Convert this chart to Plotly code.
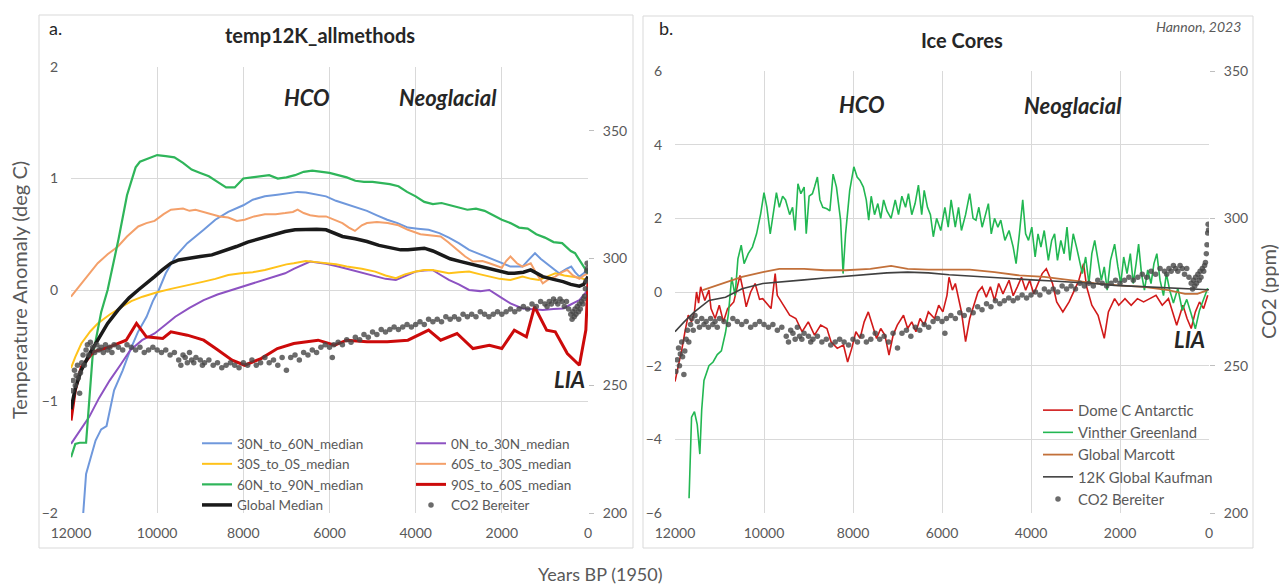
import plotly.graph_objects as go

# page has an 8px body margin: design in screen pixels, convert to figure paper coords
OFF = 8
W, H = 1287 - 2 * OFF, 587 - OFF
def px(x): return (x - OFF) / W
def py(y): return 1 - (y - OFF) / H

# ---------------- Panel a: temp12K_allmethods ----------------
nh30_60_years = [12000, 11716, 11650, 11430, 11300, 11175, 11000, 10800, 10626, 10450, 10246, 10100, 9962, 9800, 9580, 9300, 8920, 8650, 8350, 8000, 7780, 7500, 7210, 6950, 6740, 6550, 6360, 6080, 5850, 5600, 5350, 5130, 4900, 4660, 4420, 4180, 3950, 3700, 3450, 3230, 3000, 2760, 2500, 2290, 2050, 1800, 1520, 1380, 1230, 1100, 960, 800, 670, 500, 390, 300, 200, 100, 0]
nh30_60_vals = [-3.0, -2.0, -1.65, -1.35, -1.25, -1.22, -0.9, -0.72, -0.54, -0.38, -0.24, -0.1, 0.0, 0.15, 0.30, 0.42, 0.54, 0.63, 0.70, 0.76, 0.81, 0.84, 0.855, 0.87, 0.88, 0.875, 0.86, 0.84, 0.80, 0.77, 0.74, 0.71, 0.67, 0.63, 0.60, 0.56, 0.55, 0.54, 0.51, 0.47, 0.42, 0.36, 0.32, 0.29, 0.25, 0.21, 0.21, 0.27, 0.33, 0.28, 0.24, 0.19, 0.15, 0.19, 0.21, 0.16, 0.12, 0.15, 0.19]

eq0_30n_years = [12000, 11800, 11580, 11350, 11100, 10850, 10625, 10350, 10060, 9800, 9580, 9250, 8920, 8600, 8260, 8000, 7750, 7500, 7250, 7030, 6830, 6640, 6450, 6250, 6080, 5800, 5510, 5200, 4940, 4700, 4460, 4200, 4000, 3800, 3610, 3400, 3230, 3000, 2760, 2500, 2290, 2050, 1800, 1520, 1300, 1050, 800, 580, 400, 200, 0]
eq0_30n_vals = [-1.38, -1.27, -1.14, -0.97, -0.81, -0.67, -0.54, -0.45, -0.39, -0.31, -0.24, -0.16, -0.09, -0.04, 0.0, 0.03, 0.06, 0.09, 0.12, 0.15, 0.19, 0.225, 0.255, 0.245, 0.235, 0.21, 0.18, 0.15, 0.12, 0.10, 0.09, 0.13, 0.165, 0.175, 0.18, 0.13, 0.09, 0.05, 0.0, -0.01, 0.0, -0.06, -0.12, -0.165, -0.17, -0.18, -0.17, -0.165, -0.13, -0.09, 0.0]

sh30_0_years = [12000, 11900, 11760, 11550, 11380, 11100, 10815, 10600, 10340, 10000, 9680, 9300, 8920, 8650, 8350, 8050, 7780, 7500, 7210, 7000, 6830, 6550, 6300, 6080, 5850, 5600, 5250, 4940, 4700, 4460, 4250, 4000, 3800, 3610, 3400, 3230, 3000, 2760, 2500, 2290, 2050, 1800, 1520, 1320, 1140, 950, 760, 550, 380, 200, 0]
sh30_0_vals = [-0.70, -0.60, -0.48, -0.37, -0.30, -0.22, -0.15, -0.10, -0.06, -0.02, 0.01, 0.04, 0.075, 0.10, 0.135, 0.15, 0.16, 0.18, 0.21, 0.23, 0.24, 0.26, 0.25, 0.24, 0.23, 0.21, 0.19, 0.165, 0.13, 0.105, 0.14, 0.165, 0.18, 0.18, 0.16, 0.15, 0.16, 0.165, 0.14, 0.12, 0.10, 0.09, 0.12, 0.10, 0.09, 0.12, 0.15, 0.13, 0.12, 0.11, 0.09]

sh60_30_years = [12000, 11760, 11600, 11380, 11150, 10910, 10700, 10440, 10250, 10060, 9850, 9680, 9400, 9250, 9110, 8900, 8730, 8550, 8350, 8150, 7970, 7750, 7500, 7250, 7030, 6850, 6740, 6600, 6450, 6250, 6080, 5900, 5700, 5550, 5410, 5250, 5130, 4900, 4650, 4400, 4180, 3890, 3650, 3420, 3250, 3040, 2850, 2670, 2450, 2290, 2150, 2000, 1900, 1800, 1650, 1520, 1330, 1200, 1050, 900, 760, 600, 480, 350, 200, 100, 0]
sh60_30_vals = [-0.06, 0.06, 0.14, 0.24, 0.32, 0.39, 0.48, 0.57, 0.60, 0.62, 0.68, 0.72, 0.73, 0.71, 0.72, 0.70, 0.68, 0.66, 0.65, 0.62, 0.63, 0.66, 0.68, 0.68, 0.69, 0.70, 0.72, 0.69, 0.67, 0.66, 0.66, 0.63, 0.60, 0.56, 0.53, 0.58, 0.60, 0.61, 0.60, 0.58, 0.54, 0.50, 0.49, 0.48, 0.43, 0.36, 0.30, 0.255, 0.26, 0.24, 0.22, 0.20, 0.26, 0.30, 0.24, 0.21, 0.24, 0.15, 0.06, 0.10, 0.12, 0.16, 0.18, 0.13, 0.10, 0.13, 0.15]

nh60_90_years = [12000, 11900, 11800, 11650, 11500, 11300, 11150, 10900, 10700, 10500, 10400, 10200, 10000, 9800, 9600, 9400, 9200, 9000, 8800, 8600, 8400, 8200, 8100, 8000, 7800, 7600, 7400, 7200, 7000, 6800, 6600, 6400, 6200, 6000, 5800, 5600, 5400, 5200, 5000, 4800, 4600, 4400, 4200, 4000, 3800, 3600, 3400, 3200, 3000, 2800, 2600, 2400, 2200, 2000, 1800, 1600, 1400, 1200, 1000, 800, 600, 400, 300, 200, 100, 0]
nh60_90_vals = [-1.50, -1.38, -1.37, -1.37, -0.6, -0.2, 0.0, 0.45, 0.85, 1.10, 1.15, 1.18, 1.21, 1.20, 1.19, 1.14, 1.08, 1.05, 1.02, 0.97, 0.92, 0.92, 0.96, 1.00, 1.01, 1.02, 1.03, 1.00, 1.01, 1.03, 1.06, 1.07, 1.06, 1.05, 1.03, 1.01, 0.98, 0.97, 0.97, 0.96, 0.95, 0.93, 0.88, 0.84, 0.79, 0.77, 0.78, 0.76, 0.74, 0.72, 0.73, 0.71, 0.67, 0.63, 0.60, 0.56, 0.55, 0.50, 0.47, 0.43, 0.42, 0.35, 0.33, 0.27, 0.22, 0.15]

sh90_60_years = [12000, 11900, 11760, 11480, 11100, 10720, 10480, 10250, 9870, 9680, 9300, 8920, 8640, 8260, 7970, 7590, 7210, 6830, 6265, 5880, 5600, 5130, 4660, 4180, 3700, 3420, 3040, 2670, 2290, 2000, 1710, 1430, 1240, 960, 760, 480, 200, 50, 0]
sh90_60_vals = [-1.17, -0.90, -0.69, -0.555, -0.51, -0.45, -0.30, -0.42, -0.435, -0.375, -0.405, -0.45, -0.525, -0.63, -0.675, -0.615, -0.525, -0.48, -0.45, -0.495, -0.45, -0.465, -0.465, -0.45, -0.36, -0.45, -0.39, -0.525, -0.495, -0.525, -0.36, -0.42, -0.15, -0.36, -0.375, -0.57, -0.675, -0.36, 0.09]

global_years = [12000, 11900, 11760, 11550, 11380, 11150, 10910, 10650, 10440, 10340, 10200, 10060, 9880, 9680, 9500, 9300, 9000, 8730, 8450, 8160, 7900, 7590, 7300, 7030, 6800, 6550, 6300, 6080, 5900, 5700, 5400, 5130, 4850, 4560, 4350, 4180, 4000, 3800, 3600, 3420, 3200, 2950, 2700, 2480, 2250, 2000, 1850, 1710, 1500, 1330, 1200, 1050, 800, 580, 400, 200, 100, 0]
global_vals = [-1.07, -0.88, -0.72, -0.56, -0.45, -0.30, -0.18, -0.07, 0.0, 0.03, 0.08, 0.12, 0.18, 0.24, 0.27, 0.285, 0.30, 0.315, 0.35, 0.39, 0.43, 0.465, 0.50, 0.525, 0.54, 0.545, 0.545, 0.54, 0.51, 0.48, 0.46, 0.435, 0.40, 0.375, 0.36, 0.36, 0.37, 0.375, 0.35, 0.315, 0.28, 0.255, 0.23, 0.21, 0.19, 0.165, 0.15, 0.15, 0.16, 0.18, 0.15, 0.12, 0.095, 0.075, 0.05, 0.035, 0.05, 0.12]

# ---------------- CO2 Bereiter (shared by both panels) ----------------
co2_years = [11980, 11950, 11920, 11900, 11880, 11850, 11830, 11800, 11780, 11750, 11720, 11690, 11650, 11620, 11590, 11550, 11500, 11450, 11400, 11350, 11300, 11250, 11200, 11150, 11100, 11050, 11000, 10900, 10800, 10700, 10600, 10500, 10400, 10300, 10200, 10100, 10000, 9900, 9800, 9700, 9600, 9500, 9450, 9400, 9350, 9300, 9250, 9200, 9150, 9100, 9000, 8950, 8900, 8800, 8700, 8600, 8500, 8400, 8300, 8200, 8100, 8000, 7900, 7800, 7700, 7600, 7500, 7400, 7300, 7200, 7100, 7000, 6900, 6800, 6700, 6600, 6500, 6400, 6300, 6200, 6100, 6000, 5935, 5900, 5800, 5700, 5600, 5500, 5400, 5300, 5200, 5100, 5000, 4900, 4800, 4700, 4600, 4500, 4400, 4300, 4200, 4100, 4000, 3900, 3800, 3700, 3600, 3500, 3400, 3300, 3200, 3100, 3000, 2900, 2800, 2700, 2600, 2500, 2400, 2300, 2200, 2100, 2000, 1900, 1800, 1700, 1600, 1500, 1400, 1300, 1200, 1100, 1000, 950, 900, 850, 800, 750, 700, 650, 600, 550, 500, 450, 400, 370, 350, 320, 300, 280, 250, 220, 200, 180, 150, 120, 100, 80, 60, 45, 30, 20, 10]
co2_ppm = [248, 252, 256, 250, 254, 258, 253, 247, 255, 259, 262, 258, 264, 266, 262, 267, 265, 263, 266, 264, 265, 263, 266, 264, 265, 263, 266, 265, 264, 266, 265, 264, 265, 263, 264, 265, 264, 263, 264, 262, 263, 260, 258, 262, 261, 259, 263, 260, 259, 261, 260, 258, 259, 260, 258, 259, 257, 258, 259, 258, 257, 259, 258, 260, 258, 259, 261, 259, 260, 258, 261, 256, 261, 262, 260, 263, 262, 264, 263, 265, 266, 265, 261, 266, 267, 266, 268, 267, 269, 268, 270, 269, 271, 270, 272, 271, 272, 273, 272, 273, 274, 273, 274, 275, 274, 276, 275, 276, 275, 277, 276, 277, 276, 278, 277, 278, 277, 279, 278, 277, 278, 279, 278, 279, 280, 279, 280, 281, 280, 282, 281, 283, 282, 281, 283, 282, 284, 283, 282, 284, 283, 281, 283, 280, 278, 276, 279, 277, 280, 278, 281, 279, 282, 280, 283, 282, 284, 285, 288, 291, 295, 298, 296]

# ---------------- Panel b: Ice Cores ----------------
domec_years = [12000, 11935, 11842, 11777, 11702, 11628, 11563, 11516, 11470, 11423, 11330, 11237, 11191, 11098, 11005, 10912, 10818, 10679, 10540, 10470, 10400, 10300, 10200, 10100, 10028, 9842, 9749, 9702, 9563, 9423, 9284, 9144, 9005, 8865, 8726, 8586, 8493, 8354, 8214, 8121, 8028, 7935, 7842, 7749, 7656, 7563, 7470, 7377, 7284, 7191, 7098, 7005, 6865, 6772, 6679, 6586, 6493, 6400, 6307, 6167, 6074, 5981, 5888, 5842, 5767, 5700, 5630, 5563, 5470, 5377, 5284, 5191, 5098, 5005, 4912, 4819, 4726, 4630, 4493, 4400, 4307, 4214, 4120, 4030, 3940, 3840, 3749, 3656, 3516, 3423, 3284, 3144, 3051, 2930, 2819, 2750, 2633, 2493, 2354, 2261, 2121, 2028, 1888, 1749, 1609, 1470, 1330, 1191, 1051, 912, 726, 586, 493, 400, 307, 214, 121, 28]
domec_vals = [-2.43, -2.07, -1.53, -1.08, -0.63, -0.81, -0.54, 0.0, -0.3, 0.14, -0.23, 0.05, -0.45, -0.72, -0.36, -0.81, -0.45, -0.27, 0.45, 0.05, -0.4, 0.0, 0.23, -0.2, -0.18, -0.45, 0.5, -0.09, -0.36, -0.63, -0.72, -1.08, -0.81, -1.17, -0.9, -0.99, -1.35, -1.53, -1.44, -1.9, -1.53, -1.08, -1.26, -0.81, -0.54, -0.9, -1.26, -0.99, -1.17, -1.71, -1.17, -0.9, -0.63, -0.99, -0.81, -1.08, -0.72, -0.9, -0.54, -0.72, -0.36, -0.54, -0.09, 0.4, 0.05, 0.23, -0.2, -0.54, -1.35, -0.72, -0.36, 0.0, 0.14, -0.14, 0.14, -0.23, 0.23, -0.05, 0.32, -0.1, 0.14, 0.4, 0.05, 0.32, -0.05, 0.23, 0.5, 0.63, 0.23, -0.27, -0.54, -0.27, 0.0, 0.3, 0.77, 0.14, -0.36, -0.63, -1.26, -0.54, -0.18, -0.36, -0.18, -0.36, -0.18, -0.27, -0.18, -0.09, -0.36, -0.18, -0.9, -0.36, -0.72, -0.99, -0.54, -0.27, -0.45, -0.09]

vinther_years = [11684, 11628, 11563, 11500, 11442, 11400, 11349, 11237, 11144, 11050, 10958, 10865, 10800, 10726, 10650, 10586, 10512, 10447, 10354, 10261, 10167, 10074, 10000, 9935, 9860, 9795, 9721, 9656, 9581, 9516, 9423, 9358, 9302, 9237, 9172, 9098, 9051, 8986, 8912, 8865, 8800, 8744, 8679, 8586, 8521, 8447, 8372, 8279, 8223, 8167, 8074, 7981, 7907, 7842, 7767, 7702, 7647, 7591, 7516, 7442, 7377, 7312, 7237, 7144, 7051, 6977, 6902, 6819, 6754, 6679, 6605, 6530, 6456, 6400, 6326, 6260, 6195, 6121, 6028, 5935, 5861, 5795, 5702, 5628, 5563, 5470, 5377, 5302, 5237, 5172, 5098, 5023, 4958, 4893, 4819, 4744, 4679, 4586, 4493, 4400, 4335, 4261, 4186, 4121, 4056, 3982, 3907, 3842, 3777, 3703, 3610, 3535, 3470, 3405, 3330, 3256, 3191, 3126, 3051, 2977, 2912, 2847, 2772, 2698, 2633, 2568, 2493, 2419, 2354, 2288, 2214, 2121, 2047, 1982, 1917, 1842, 1768, 1703, 1638, 1582, 1517, 1451, 1377, 1303, 1237, 1172, 1100, 1023, 958, 884, 800, 700, 600, 500, 400, 307, 214, 120, 30]
vinther_vals = [-5.6, -3.4, -3.25, -3.6, -4.4, -3.2, -2.4, -2.0, -1.9, -1.7, -1.6, -1.1, -0.6, 0.4, -0.1, 0.9, 1.27, 0.77, 1.04, 1.22, 1.58, 2.13, 2.7, 2.3, 1.58, 2.1, 2.7, 2.3, 2.6, 2.5, 2.1, 2.3, 1.67, 2.94, 2.67, 2.85, 1.58, 2.6, 2.67, 2.85, 3.12, 2.5, 2.3, 2.26, 2.2, 3.2, 2.85, 1.95, 0.5, 1.58, 2.76, 3.4, 3.12, 3.03, 2.85, 2.5, 1.95, 2.6, 2.1, 2.4, 2.0, 2.5, 2.2, 2.0, 2.5, 2.1, 2.6, 2.3, 2.67, 2.1, 2.4, 2.9, 2.1, 2.76, 2.3, 2.1, 1.5, 2.0, 1.67, 2.3, 1.76, 2.5, 1.76, 2.3, 1.67, 2.1, 2.67, 2.0, 1.95, 2.3, 1.76, 2.1, 2.4, 1.58, 2.0, 1.76, 1.95, 1.4, 1.67, 1.22, 0.77, 1.58, 2.5, 1.58, 1.4, 1.76, 0.95, 1.58, 1.22, 1.67, 0.86, 1.4, 1.58, 0.86, 1.4, 1.04, 1.76, 0.86, 1.58, 1.22, 0.86, 0.5, 0.95, 0.23, 1.04, 1.4, 0.86, 0.32, 0.68, 0.05, 0.86, 1.3, 0.68, 0.23, 0.95, 0.5, 1.04, 0.23, 0.77, 1.3, 0.5, 0.05, 0.6, 0.23, 0.77, 1.04, 0.32, -0.1, 0.5, 0.05, -0.3, 0.1, -0.5, -0.2, -0.6, -1.0, -0.5, -0.2, 0.1]

marcott_years = [11377, 10958, 10493, 10028, 9656, 9098, 8633, 8167, 7609, 7144, 6772, 6307, 5749, 5377, 4819, 4261, 3703, 3144, 2586, 2028, 1470, 912, 540, 260, 30]
marcott_vals = [0.05, 0.23, 0.41, 0.54, 0.63, 0.63, 0.59, 0.59, 0.63, 0.71, 0.63, 0.61, 0.61, 0.61, 0.54, 0.45, 0.41, 0.32, 0.24, 0.18, 0.14, 0.05, -0.05, -0.05, 0.05]

kaufman_years = [12000, 11795, 11563, 11237, 10865, 10493, 10028, 9563, 9098, 8633, 8167, 7702, 7237, 6772, 6307, 5842, 5377, 4912, 4447, 3982, 3516, 3051, 2586, 2121, 1656, 1191, 726, 260, 0]
kaufman_vals = [-1.08, -0.81, -0.54, -0.23, -0.14, 0.09, 0.23, 0.29, 0.33, 0.38, 0.43, 0.48, 0.52, 0.54, 0.52, 0.47, 0.43, 0.41, 0.36, 0.33, 0.30, 0.27, 0.23, 0.18, 0.15, 0.12, 0.09, 0.06, 0.06]

x_ticks = [12000, 10000, 8000, 6000, 4000, 2000, 0]

FONT = "Lato"
TICKC = "#595959"
GRID = "#d9d9d9"

fig = go.Figure()

def line(x, y, name, color, width, xa, ya, legend):
    fig.add_trace(go.Scatter(x=x, y=y, name=name, mode="lines",
                             line=dict(color=color, width=width),
                             xaxis=xa, yaxis=ya, legend=legend))

# Panel a traces (legend col 1 = legend, col 2 = legend2)
line(nh30_60_years, nh30_60_vals, "30N_to_60N_median", "#6f98dc", 2, "x", "y", "legend")
line(eq0_30n_years, eq0_30n_vals, "0N_to_30N_median", "#8d52c2", 2, "x", "y", "legend2")
line(sh30_0_years, sh30_0_vals, "30S_to_0S_median", "#ffc21a", 2, "x", "y", "legend")
line(sh60_30_years, sh60_30_vals, "60S_to_30S_median", "#f4a06a", 2, "x", "y", "legend2")
line(nh60_90_years, nh60_90_vals, "60N_to_90N_median", "#2fb55a", 2.2, "x", "y", "legend")
line(sh90_60_years, sh90_60_vals, "90S_to_60S_median", "#cc0a0a", 3, "x", "y", "legend2")
line(global_years, global_vals, "Global Median", "#1a1a1a", 3.5, "x", "y", "legend")
fig.add_trace(go.Scatter(x=co2_years, y=co2_ppm, name="CO2 Bereiter", mode="markers",
                         marker=dict(color="rgba(70,70,70,0.8)", size=5.5),
                         xaxis="x", yaxis="y2", legend="legend2"))

# Panel b traces
line(domec_years, domec_vals, "Dome C Antarctic", "#d11a1a", 1.6, "x2", "y3", "legend3")
line(vinther_years, vinther_vals, "Vinther Greenland", "#22b752", 1.6, "x2", "y3", "legend3")
line(marcott_years, marcott_vals, "Global Marcott", "#c2703a", 1.8, "x2", "y3", "legend3")
line(kaufman_years, kaufman_vals, "12K Global Kaufman", "#404040", 1.6, "x2", "y3", "legend3")
fig.add_trace(go.Scatter(x=co2_years, y=co2_ppm, name="CO2 Bereiter", mode="markers",
                         marker=dict(color="rgba(70,70,70,0.8)", size=5.5),
                         xaxis="x2", yaxis="y4", legend="legend3"))

tickfont = dict(family=FONT, size=14, color=TICKC)
xcommon = dict(range=[12000, 0], tickvals=x_ticks, tickformat="d", showgrid=True, gridcolor=GRID,
               gridwidth=1, zeroline=False, showline=False, tickfont=tickfont, ticks="",
               ticklabelstandoff=10, automargin=False)
ycommon = dict(showgrid=True, gridcolor=GRID, gridwidth=1, zeroline=True, zerolinecolor=GRID,
               zerolinewidth=1, showline=False, tickfont=tickfont, ticks="", ticklabelstandoff=12,
               automargin=False)
y2common = dict(showgrid=False, zeroline=False, showline=False, tickfont=tickfont, ticks="outside",
                ticklen=5, tickcolor="#bfbfbf", ticklabelstandoff=6, automargin=False)

legcommon = dict(bgcolor="rgba(0,0,0,0)", font=dict(family=FONT, size=13.5, color=TICKC),
                 xanchor="left", yanchor="top", orientation="v", tracegroupgap=0)

fig.update_layout(
    width=W, height=H, margin=dict(l=0, r=0, t=0, b=0, pad=0, autoexpand=False),
    paper_bgcolor="white", plot_bgcolor="white",
    font=dict(family=FONT, color=TICKC),
    xaxis=dict(domain=[px(71), px(588)], anchor="y", **xcommon),
    yaxis=dict(domain=[py(513), py(67)], anchor="x", range=[-2, 2], dtick=1, **ycommon),
    yaxis2=dict(overlaying="y", side="right", anchor="x", range=[200, 375],
                tickvals=[200, 250, 300, 350], **y2common),
    xaxis2=dict(domain=[px(675), px(1209)], anchor="y3", **xcommon),
    yaxis3=dict(domain=[py(513), py(71)], anchor="x2", range=[-6, 6], dtick=2, **ycommon),
    yaxis4=dict(overlaying="y3", side="right", anchor="x2", range=[200, 350],
                tickvals=[200, 250, 300, 350], **y2common),
    legend=dict(x=px(197), y=py(428), **legcommon),
    legend2=dict(x=px(411), y=py(428), **legcommon),
    legend3=dict(x=px(1038), y=py(394), **{**legcommon, "font": dict(family=FONT, size=14.8, color=TICKC)}),
    showlegend=True,
)

# Panel frames
fig.add_shape(type="rect", xref="paper", yref="paper", x0=px(39), x1=px(633), y0=py(548), y1=py(15),
              line=dict(color=GRID, width=1), layer="below")
fig.add_shape(type="rect", xref="paper", yref="paper", x0=px(643), x1=px(1253), y0=py(548), y1=py(16),
              line=dict(color=GRID, width=1), layer="below")

def ann(text, x, y, size, color="#262626", xref="paper", yref="paper", bold=False, italic=False,
        angle=0, xanchor="center"):
    fig.add_annotation(text=text, x=x, y=y, xref=xref, yref=yref, showarrow=False,
                       xanchor=xanchor, yanchor="middle", textangle=angle,
                       font=dict(family=FONT, size=size, color=color,
                                 weight="bold" if bold else "normal",
                                 style="italic" if italic else "normal"))

ann("a.", px(55), py(28), 18, color="#262626")
ann("b.", px(666), py(28), 18, color="#262626")
ann("temp12K_allmethods", px(320), py(35), 20, bold=True)
ann("Ice Cores", px(962), py(40), 20, bold=True)
ann("Hannon, 2023", px(1198), py(27), 14, color=TICKC, italic=True)

ann("HCO", 6520, 1.73, 22, xref="x", yref="y", bold=True, italic=True)
ann("Neoglacial", 3250, 1.73, 22, xref="x", yref="y", bold=True, italic=True)
ann("LIA", 420, -0.8, 22, xref="x", yref="y", bold=True, italic=True)
ann("HCO", 7800, 5.1, 22, xref="x2", yref="y3", bold=True, italic=True)
ann("Neoglacial", 3060, 5.05, 22, xref="x2", yref="y3", bold=True, italic=True)
ann("LIA", 430, -1.3, 22, xref="x2", yref="y3", bold=True, italic=True)

ann("Temperature Anomaly (deg C)", px(19), py(290), 20, color=TICKC, angle=-90)
ann("CO2 (ppm)", px(1268), py(292), 20, color=TICKC, angle=-90)
ann("Years BP (1950)", px(600), py(574), 18, color=TICKC)

fig.write_html("out.html")
